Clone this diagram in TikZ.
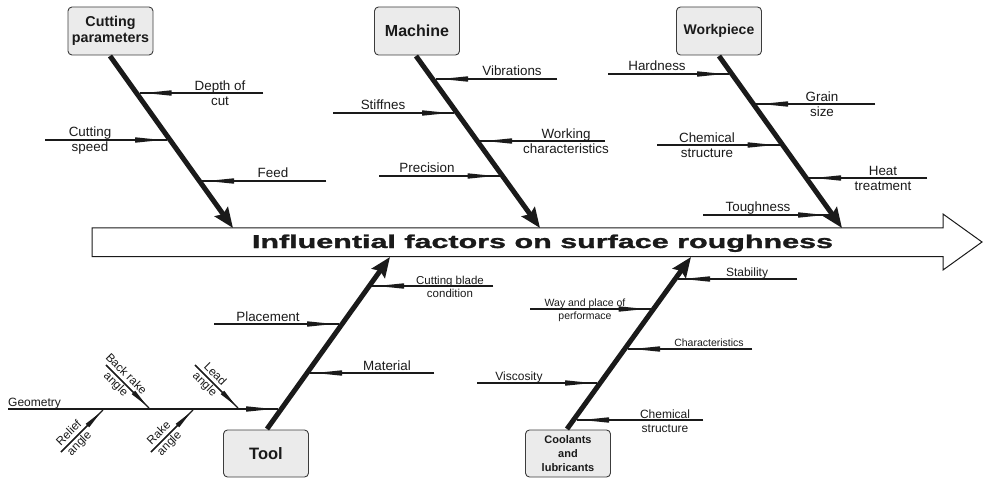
\documentclass[tikz,border=0pt]{standalone}
\usepackage{fontspec}
\setmainfont{Liberation Sans}
\usepackage{graphicx}
\usetikzlibrary{arrows.meta}
\definecolor{boxfill}{HTML}{EBEBEB}
\definecolor{ink}{HTML}{1A1A1A}
\begin{document}
\begin{tikzpicture}[x=1pt,y=-1pt,
  catbox/.style={draw=ink!85, line width=0.9pt, fill=boxfill, rounded corners=4pt,
    font=\bfseries, text=ink, align=center, inner sep=0pt,
    minimum width=85pt, minimum height=48pt},
  spine/.style={draw=ink, line width=5pt, -{Stealth[length=20pt,width=16pt,inset=3pt]}},
  branch/.style={draw=ink, line width=1.6pt, preaction={draw=ink, line width=1.6pt, arrows=-},
    -{Stealth[length=28pt,width=5pt,inset=0pt,sep=4pt]}},
  subbranch/.style={draw=ink, line width=1.3pt, preaction={draw=ink, line width=1.3pt, arrows=-},
    -{Stealth[length=20pt,width=4.5pt,inset=0pt,sep=2pt]}},
  lbl/.style={font=\fontsize{13.4}{15}\selectfont, text=ink, align=center, inner sep=0pt},
  lblm/.style={font=\fontsize{12}{14}\selectfont, text=ink, align=center, inner sep=0pt},
  lbls/.style={font=\fontsize{10.5}{13}\selectfont, text=ink, align=center, inner sep=0pt},
  lblr/.style={font=\fontsize{11.8}{14.5}\selectfont, text=ink, align=center, inner sep=0pt, sloped},
]
\useasboundingbox (0,0) rectangle (984,478);

% main arrow
\draw[ink, line width=1pt, fill=white] (92,228) -- (943,228) -- (943,214) -- (982,242)
  -- (943,270) -- (943,256.5) -- (92,256.5) -- cycle;
\node[anchor=base, text=ink, inner sep=0pt] (title) at (542.5,248)
  {\resizebox{581pt}{\height}{\fontsize{18.6}{20}\selectfont\bfseries\addfontfeature{FakeBold=1.2}Influential factors on surface roughness}};

% category boxes
\node[catbox, font=\fontsize{14.3}{16}\selectfont\bfseries] (cp) at (110.5,31) {Cutting\\parameters};
\node[catbox, font=\fontsize{16}{18}\selectfont\bfseries] (mach) at (417,31) {Machine};
\node[catbox, font=\fontsize{14}{16}\selectfont\bfseries] (wp) at (719,31) {Workpiece};
\node[catbox, minimum height=47pt, font=\fontsize{16.5}{18}\selectfont\bfseries] (tool) at (266,453.5) {Tool};
\node[catbox, minimum height=47pt, font=\fontsize{11}{14}\selectfont\bfseries] (cool) at (568,453.5) {Coolants\\and\\lubricants};

% spines
\coordinate (cpS) at (110,56);  \coordinate (cpT) at (233,228);
\coordinate (maS) at (416,56);  \coordinate (maT) at (540,228);
\coordinate (wpS) at (719,56);  \coordinate (wpT) at (842,228);
\coordinate (toS) at (267,429); \coordinate (toT) at (390,257);
\coordinate (coS) at (567,429); \coordinate (coT) at (691,257);
\draw[spine] (cpS) -- (cpT);
\draw[spine] (maS) -- (maT);
\draw[spine] (wpS) -- (wpT);
\draw[spine] (toS) -- (toT);
\draw[spine] (coS) -- (coT);

% Cutting parameters branches
\coordinate (b1a) at (263,93);  \coordinate (b1b) at (139.5,93);
\draw[branch] (b1a) -- (b1b);
\node[lbl] (l1) at (220,93) {Depth of\\cut};
\coordinate (b2a) at (45,140);  \coordinate (b2b) at (167,140);
\draw[branch] (b2a) -- (b2b);
\node[lbl] (l2) at (90,141) {Cutting\\speed};
\coordinate (b3a) at (326,181); \coordinate (b3b) at (202,181);
\draw[branch] (b3a) -- (b3b);
\node[lbl, anchor=base] (l3) at (273,178) {Feed};

% Machine branches
\coordinate (b4a) at (557,79);  \coordinate (b4b) at (436,79);
\draw[branch] (b4a) -- (b4b);
\node[lbl, anchor=base] (l4) at (512,76) {Vibrations};
\coordinate (b5a) at (333,113); \coordinate (b5b) at (454,113);
\draw[branch] (b5a) -- (b5b);
\node[lbl, anchor=base] (l5) at (383,110) {Stiffnes};
\coordinate (b6a) at (605,141); \coordinate (b6b) at (480,141);
\draw[branch] (b6a) -- (b6b);
\node[lbl] (l6) at (566,141) {Working\\characteristics};
\coordinate (b7a) at (379,176); \coordinate (b7b) at (499.5,176);
\draw[branch] (b7a) -- (b7b);
\node[lbl, anchor=base] (l7) at (427,173) {Precision};

% Workpiece branches
\coordinate (b8a) at (608,74);  \coordinate (b8b) at (729,74);
\draw[branch] (b8a) -- (b8b);
\node[lbl, anchor=base] (l8) at (657,71) {Hardness};
\coordinate (b9a) at (875,104); \coordinate (b9b) at (756,104);
\draw[branch] (b9a) -- (b9b);
\node[lbl] (l9) at (822,104) {Grain\\size};
\coordinate (b10a) at (657,145); \coordinate (b10b) at (779.5,145);
\draw[branch] (b10a) -- (b10b);
\node[lbl] (l10) at (707,145) {Chemical\\structure};
\coordinate (b11a) at (927,178); \coordinate (b11b) at (809,178);
\draw[branch] (b11a) -- (b11b);
\node[lbl] (l11) at (883,178) {Heat\\treatment};
\coordinate (b12a) at (703,215); \coordinate (b12b) at (830,215);
\draw[branch] (b12a) -- (b12b);
\node[lbl, anchor=base] (l12) at (758,212) {Toughness};

% Tool branches
\coordinate (b13a) at (493,286); \coordinate (b13b) at (372,286);
\draw[branch] (b13a) -- (b13b);
\node[lbl, font=\fontsize{11.5}{13}\selectfont] (l13) at (450,287) {Cutting blade\\condition};
\coordinate (b14a) at (214,324); \coordinate (b14b) at (339,324);
\draw[branch] (b14a) -- (b14b);
\node[lbl, anchor=base] (l14) at (268,321) {Placement};
\coordinate (b15a) at (434,373); \coordinate (b15b) at (310,373);
\draw[branch] (b15a) -- (b15b);
\node[lbl, anchor=base] (l15) at (387,370) {Material};
\coordinate (b16a) at (8,409); \coordinate (b16b) at (278,409);
\draw[branch] (b16a) -- (b16b);
\node[lblm, anchor=base west] (l16) at (8,406) {Geometry};

% Geometry sub-branches
\coordinate (s1a) at (106,365); \coordinate (s1b) at (149,408);
\draw[subbranch] (s1a) -- node[lblr, pos=0.34] (r1) {Back rake\\angle} (s1b);
\coordinate (s2a) at (195,365); \coordinate (s2b) at (238,408);
\draw[subbranch] (s2a) -- node[lblr, pos=0.34] (r2) {Lead\\angle} (s2b);
\coordinate (s3a) at (61,452); \coordinate (s3b) at (103,410);
\draw[subbranch] (s3a) -- node[lblr, pos=0.32] (r3) {Relief\\angle} (s3b);
\coordinate (s4a) at (151,452); \coordinate (s4b) at (193,410);
\draw[subbranch] (s4a) -- node[lblr, pos=0.32] (r4) {Rake\\angle} (s4b);

% Coolants branches
\coordinate (b17a) at (797,279); \coordinate (b17b) at (678,279);
\draw[branch] (b17a) -- (b17b);
\node[lblm, anchor=base] (l17) at (747,276) {Stability};
\coordinate (b18a) at (530,309); \coordinate (b18b) at (650.5,309);
\draw[branch] (b18a) -- (b18b);
\node[lbls] (l18) at (585,310) {Way and place of\\performace};
\coordinate (b19a) at (752,349); \coordinate (b19b) at (628,349);
\draw[branch] (b19a) -- (b19b);
\node[lbls, anchor=base] (l19) at (709,346) {Characteristics};
\coordinate (b20a) at (477,383); \coordinate (b20b) at (597,383);
\draw[branch] (b20a) -- (b20b);
\node[lblm, anchor=base] (l20) at (519,380) {Viscosity};
\coordinate (b21a) at (703,420); \coordinate (b21b) at (577,420);
\draw[branch] (b21a) -- (b21b);
\node[lblm] (l21) at (665,421) {Chemical\\structure};
\end{tikzpicture}
\end{document}
